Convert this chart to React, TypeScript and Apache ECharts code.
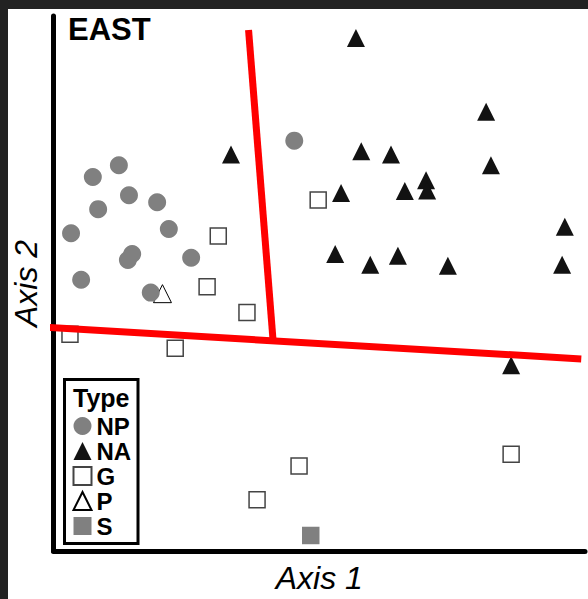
import React, { useEffect, useRef } from "react";
import * as echarts from "echarts";

// Ordination scores (Axis 1, Axis 2)
const npPoints: number[][] = [
  [4.53, 7.67], [1.23, 7.21], [0.74, 6.99], [1.42, 6.65], [1.95, 6.52],
  [0.84, 6.39], [2.17, 6.02], [0.33, 5.94], [1.48, 5.55], [1.40, 5.44],
  [2.59, 5.48], [0.52, 5.07], [1.83, 4.83],
];
const naPoints: number[][] = [
  [5.69, 9.59], [8.14, 8.21], [5.79, 7.47], [6.35, 7.41], [8.23, 7.21],
  [7.01, 6.93], [7.03, 6.74], [6.61, 6.73], [5.41, 6.69], [9.62, 6.06],
  [5.30, 5.55], [5.96, 5.35], [6.48, 5.52], [7.42, 5.33], [9.57, 5.35],
  [3.34, 7.41], [8.61, 3.47],
];
const gPoints: number[][] = [
  [3.10, 5.89], [2.89, 4.94], [4.98, 6.56], [3.64, 4.46], [0.31, 4.05],
  [2.29, 3.79], [4.62, 1.59], [3.83, 0.96], [8.61, 1.81],
];
const pPoints: number[][] = [[2.05, 4.81]];
const sPoints: number[][] = [[4.84, 0.29]];

// Group boundaries
const boundaryA: number[][] = [[3.67, 9.74], [4.13, 3.95]];
const boundaryB: number[][] = [[-0.14, 4.18], [9.93, 3.59]];

const legendNames = ["NP", "NA", "G", "P", "S"];
const FONT = "'Liberation Sans', Arial, Helvetica, sans-serif";

export default function App() {
  const ref = useRef<HTMLDivElement>(null);
  useEffect(() => {
    if (!ref.current) return;
    const chart = echarts.init(ref.current, null, { renderer: "svg" });
    chart.setOption({
      animation: false,
      backgroundColor: "#ffffff",
      textStyle: { fontFamily: FONT },
      title: {
        text: "EAST",
        left: 68,
        top: 14,
        padding: 0,
        textStyle: { fontFamily: FONT, fontSize: 31, fontWeight: "bold", color: "#000" },
      },
      grid: { left: 53.5, right: 3, top: 16, bottom: 45.5 },
      xAxis: {
        type: "value",
        min: 0,
        max: 10,
        name: "Axis 1",
        nameLocation: "middle",
        nameGap: 11,
        nameTextStyle: { fontFamily: FONT, fontSize: 32, fontStyle: "italic", color: "#000" },
        axisLine: { show: true, onZero: false, lineStyle: { color: "#000", width: 5 } },
        axisTick: { show: false },
        axisLabel: { show: false },
        splitLine: { show: false },
      },
      yAxis: {
        type: "value",
        min: 0,
        max: 10,
        name: "Axis 2",
        nameLocation: "middle",
        nameGap: 12,
        nameTextStyle: { fontFamily: FONT, fontSize: 32, fontStyle: "italic", color: "#000" },
        axisLine: { show: true, onZero: false, lineStyle: { color: "#000", width: 5 } },
        axisTick: { show: false },
        axisLabel: { show: false },
        splitLine: { show: false },
      },
      legend: {
        data: legendNames,
        orient: "vertical",
        left: 72.5,
        top: 414,
        padding: 0,
        itemWidth: 18,
        itemHeight: 18,
        itemGap: 1,
        selectedMode: false,
        textStyle: { fontFamily: FONT, fontSize: 24, fontWeight: "bold", color: "#000", lineHeight: 24 },
        z: 10,
      },
      graphic: [
        { type: "rect", shape: { x: 0, y: 0, width: 588, height: 9 }, style: { fill: "#222" }, z: 100 },
        { type: "rect", shape: { x: 0, y: 0, width: 8, height: 599 }, style: { fill: "#222" }, z: 100 },
        {
          type: "rect",
          shape: { x: 64.5, y: 379.5, width: 73.5, height: 164 },
          style: { fill: "#fff", stroke: "#000", lineWidth: 3 },
          z: 1,
        },
        {
          type: "text",
          x: 73,
          y: 397.5,
          style: { text: "Type", font: `bold 25px ${FONT}`, fill: "#000", verticalAlign: "middle" },
          z: 11,
        },
      ],
      series: [
        {
          name: "P",
          type: "scatter",
          data: pPoints,
          symbol: "triangle",
          symbolSize: 18,
          itemStyle: { color: "#fff", borderColor: "#000", borderWidth: 1, opacity: 1 },
          z: 2,
        },
        {
          name: "NP",
          type: "scatter",
          data: npPoints,
          symbol: "circle",
          symbolSize: 18,
          itemStyle: { color: "#808080", opacity: 1 },
          z: 3,
        },
        {
          name: "NA",
          type: "scatter",
          data: naPoints,
          symbol: "triangle",
          symbolSize: 18,
          itemStyle: { color: "#121212", opacity: 1 },
          z: 3,
        },
        {
          name: "G",
          type: "scatter",
          data: gPoints,
          symbol: "rect",
          symbolSize: 16,
          itemStyle: { color: "#fff", borderColor: "#444", borderWidth: 1.5, opacity: 1 },
          z: 3,
        },
        {
          name: "S",
          type: "scatter",
          data: sPoints,
          symbol: "rect",
          symbolSize: 17.5,
          itemStyle: { color: "#808080", opacity: 1 },
          z: 3,
        },
        {
          name: "boundaryA",
          type: "line",
          data: boundaryA,
          symbol: "none",
          clip: false,
          lineStyle: { color: "#ff0000", width: 7 },
          z: 5,
        },
        {
          name: "boundaryB",
          type: "line",
          data: boundaryB,
          symbol: "none",
          clip: false,
          lineStyle: { color: "#ff0000", width: 7 },
          z: 5,
        },
      ],
    });
    return () => chart.dispose();
  }, []);
  return (
    <div
      ref={ref}
      style={{ position: "fixed", left: 0, top: 0, width: 588, height: 599 }}
    />
  );
}
